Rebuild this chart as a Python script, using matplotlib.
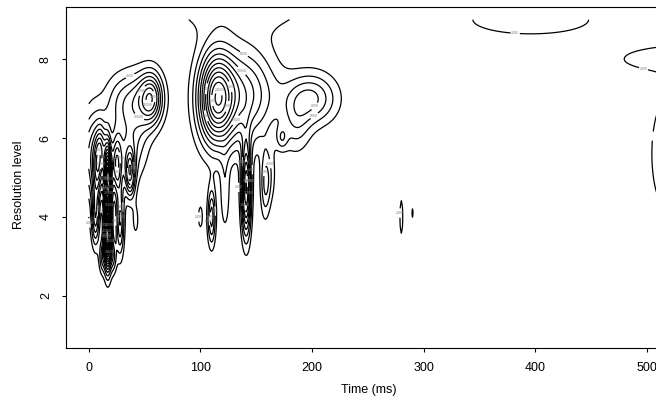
import numpy as np
import matplotlib
matplotlib.use("Agg")
import matplotlib.pyplot as plt

# energy bumps: time (ms), resolution level, spread in time, spread in level, peak
bump_time = [56, 45, 25, 40, 30, 5, -12,
             17, 17, 6, 28, 37, 12, 22, 8, 25, 42, 11,
             114, 138, 135, 100, 110, 122, 141, 158,
             199, 186, 173, 162,
             280, 290, 396, 530, 518]
bump_level = [7.0, 7.0, 6.9, 6.0, 5.5, 5.5, 8.0,
              3.5, 5.0, 4.0, 3.9, 5.1, 3.0, 3.0, 5.2, 5.3, 3.9, 5.8,
              7.0, 7.1, 9.3, 4.0, 4.0, 4.6, 4.7, 4.8,
              7.0, 6.3, 6.0, 5.0,
              4.0, 4.1, 9.0, 8.0, 5.6]
bump_twidth = [7, 13, 9, 10, 8, 8, 10,
               2.2, 2.2, 2.5, 2.5, 3, 2, 2, 3, 3, 2.5, 3,
               11, 20, 60, 2, 2.5, 3, 3, 3,
               16, 9, 3.5, 4,
               1.5, 1.2, 49, 40, 10]
bump_lwidth = [0.45, 0.5, 0.5, 0.7, 0.6, 0.8, 0.3,
               0.55, 0.6, 0.5, 0.6, 0.4, 0.3, 0.3, 0.5, 0.5, 0.35, 0.4,
               0.8, 0.85, 0.5, 0.3, 0.5, 0.7, 0.8, 0.6,
               0.45, 0.5, 0.2, 0.5,
               0.5, 0.2, 0.34, 0.25, 1.0]
bump_peak = [11000, 7000, 3000, 5000, 4000, 10000, 3000,
             30000, 25000, 10000, 10000, 12000, 6000, 6000, 8000, 10000, 2500, 6000,
             19000, 11000, 3000, 2800, 9000, 3500, 18000, 5000,
             8500, 4000, 4000, 3000,
             2800, 2300, 3500, 4400, 5000]

times = np.arange(0, 512, 1.0)
levels = np.linspace(1, 9, 161)
T, L = np.meshgrid(times, levels)
Z = np.zeros_like(T)
for t0, l0, st, sl, a in zip(bump_time, bump_level, bump_twidth, bump_lwidth, bump_peak):
    Z += a * np.exp(-0.5 * ((T - t0) / st) ** 2 - 0.5 * ((L - l0) / sl) ** 2)

plt.rcParams['font.family'] = ['Liberation Sans', 'DejaVu Sans']
fig = plt.figure(figsize=(6.56, 3.98), dpi=100)
ax = fig.add_axes([66 / 656, 50 / 398, 616 / 656, 341 / 398])
cs = ax.contour(T, L, Z, levels=np.arange(2000, 60000, 2000), colors='black', linewidths=0.9)
labs = ax.clabel(cs, fontsize=2.5, colors='gray', fmt='%d', inline=True, inline_spacing=1)
for t in labs:
    t.set_rotation(0)
    if t.get_position()[0] > 500:
        t.set_visible(False)

ax.set_xlim(-20.44, 531.44)
ax.set_ylim(0.68, 9.32)
ax.set_xticks([0, 100, 200, 300, 400, 500])
ax.set_yticks([2, 4, 6, 8])
ax.tick_params(length=3.2, width=0.8, pad=7, labelsize=9)
for lab in ax.get_yticklabels():
    lab.set_rotation(90)
    lab.set_va('center')
ax.set_xlabel("Time (ms)", fontsize=9)
ax.set_ylabel("Resolution level", fontsize=9)
ax.xaxis.set_label_coords(0.491, -0.105)
ax.yaxis.set_label_coords(-0.067, 0.48)
plt.savefig("out.png", dpi=100)
